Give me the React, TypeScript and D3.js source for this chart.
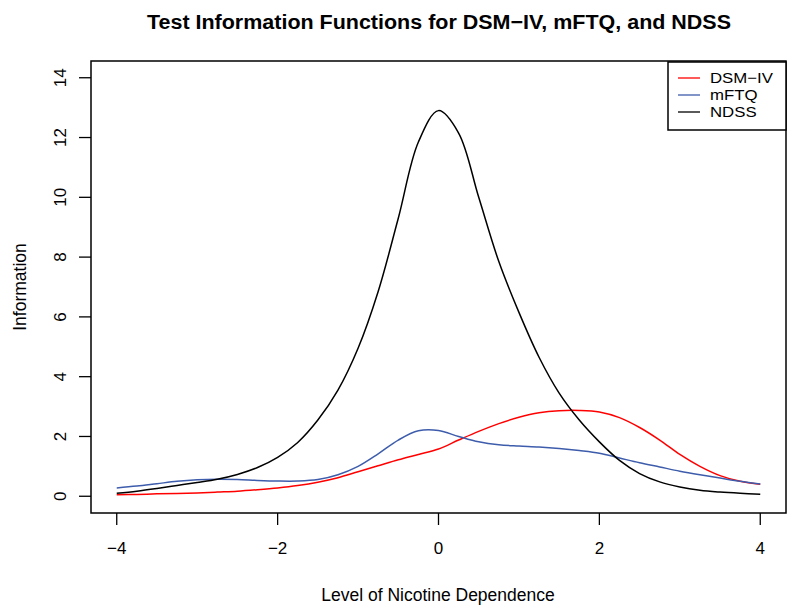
import React from "react";
import * as d3 from "d3";

const theta = [-4, -3.75, -3.5, -3.25, -3, -2.75, -2.5, -2.25, -2, -1.75, -1.5, -1.25, -1, -0.75, -0.5, -0.25, 0, 0.25, 0.5, 0.75, 1, 1.25, 1.5, 1.75, 2, 2.25, 2.5, 2.75, 3, 3.25, 3.5, 3.75, 4];
const dsmIV = [0.05, 0.06, 0.08, 0.09, 0.11, 0.14, 0.17, 0.22, 0.28, 0.36, 0.47, 0.62, 0.82, 1.02, 1.22, 1.4, 1.58, 1.88, 2.17, 2.43, 2.64, 2.79, 2.86, 2.87, 2.82, 2.63, 2.3, 1.88, 1.4, 1.0, 0.69, 0.5, 0.4];
const mFTQ = [0.28, 0.34, 0.42, 0.5, 0.55, 0.57, 0.56, 0.53, 0.51, 0.51, 0.56, 0.72, 1.0, 1.42, 1.88, 2.19, 2.2, 2.0, 1.82, 1.72, 1.68, 1.65, 1.6, 1.53, 1.44, 1.28, 1.12, 0.98, 0.84, 0.72, 0.61, 0.5, 0.41];
const ndss = [0.1, 0.17, 0.26, 0.36, 0.46, 0.57, 0.73, 0.96, 1.3, 1.8, 2.55, 3.55, 4.95, 6.85, 9.3, 11.85, 12.9, 12.15, 10.0, 7.85, 6.15, 4.65, 3.45, 2.55, 1.82, 1.2, 0.76, 0.48, 0.31, 0.2, 0.14, 0.1, 0.07];

const xTicks = [-4, -2, 0, 2, 4];
const yTicks = [0, 2, 4, 6, 8, 10, 12, 14];

const seriesNames = ["DSM\u2212IV", "mFTQ", "NDSS"];
const seriesColors = ["#ff0000", "#3d5cab", "#000000"];
const seriesData = [dsmIV, mFTQ, ndss];

const titleText = "Test Information Functions for DSM\u2212IV, mFTQ, and NDSS";
const xLabel = "Level of Nicotine Dependence";
const yLabel = "Information";

export default function App() {
  const W = 793, H = 609;
  const left = 91, right = 786, top = 61, bottom = 513;
  const x = d3.scaleLinear().domain([-4.32, 4.32]).range([left, right]);
  const y = d3.scaleLinear().domain([-0.56, 14.56]).range([bottom, top]);
  const line = d3
    .line<number>()
    .x((_, i) => x(theta[i]))
    .y((d) => y(d))
    .curve(d3.curveCatmullRom.alpha(0.5));
  const font = "'Liberation Sans', Arial, Helvetica, sans-serif";
  const fmt = (v: number) => (v < 0 ? "\u2212" + Math.abs(v) : String(v));
  const legX = 668, legY = 62, legW = right - 668, legH = 68;
  const rowY = [78, 95, 112];
  return (
    <svg width={W} height={H} style={{ position: "absolute", left: 0, top: 0, background: "#fff" }} fontFamily={font}>
      <rect x={0} y={0} width={W} height={H} fill="#fff" />
      <text x={439} y={29} textAnchor="middle" fontSize={20} fontWeight="bold" fill="#000" textLength={584} lengthAdjust="spacingAndGlyphs">
        {titleText}
      </text>
      {seriesData.map((s, i) => (
        <path key={i} d={line(s) || ""} fill="none" stroke={seriesColors[i]} strokeWidth={1.5} />
      ))}
      <rect x={left} y={top} width={right - left} height={bottom - top} fill="none" stroke="#000" strokeWidth={1.5} />
      {xTicks.map((t) => (
        <g key={t}>
          <line x1={x(t)} x2={x(t)} y1={bottom} y2={bottom + 12} stroke="#000" strokeWidth={1.3} />
          <text x={x(t)} y={554} textAnchor="middle" fontSize={17} fill="#000">
            {fmt(t)}
          </text>
        </g>
      ))}
      {yTicks.map((t) => (
        <g key={t}>
          <line x1={left - 12} x2={left} y1={y(t)} y2={y(t)} stroke="#000" strokeWidth={1.3} />
          <text transform={`translate(66,${y(t)}) rotate(-90)`} textAnchor="middle" fontSize={17} fill="#000">
            {t}
          </text>
        </g>
      ))}
      <text x={438} y={601} textAnchor="middle" fontSize={17.5} fill="#000">
        {xLabel}
      </text>
      <text transform={`translate(26,${(top + bottom) / 2}) rotate(-90)`} textAnchor="middle" fontSize={17.5} fill="#000">
        {yLabel}
      </text>
      <rect x={legX} y={legY} width={legW} height={legH} fill="#fff" stroke="#000" strokeWidth={1.5} />
      {seriesNames.map((n, i) => (
        <g key={n}>
          <line x1={678} x2={700} y1={rowY[i]} y2={rowY[i]} stroke={seriesColors[i]} strokeWidth={1.3} />
          <text transform={`translate(710,${rowY[i] + 5}) scale(1.12,1)`} fontSize={15} fill="#000">
            {n}
          </text>
        </g>
      ))}
    </svg>
  );
}
